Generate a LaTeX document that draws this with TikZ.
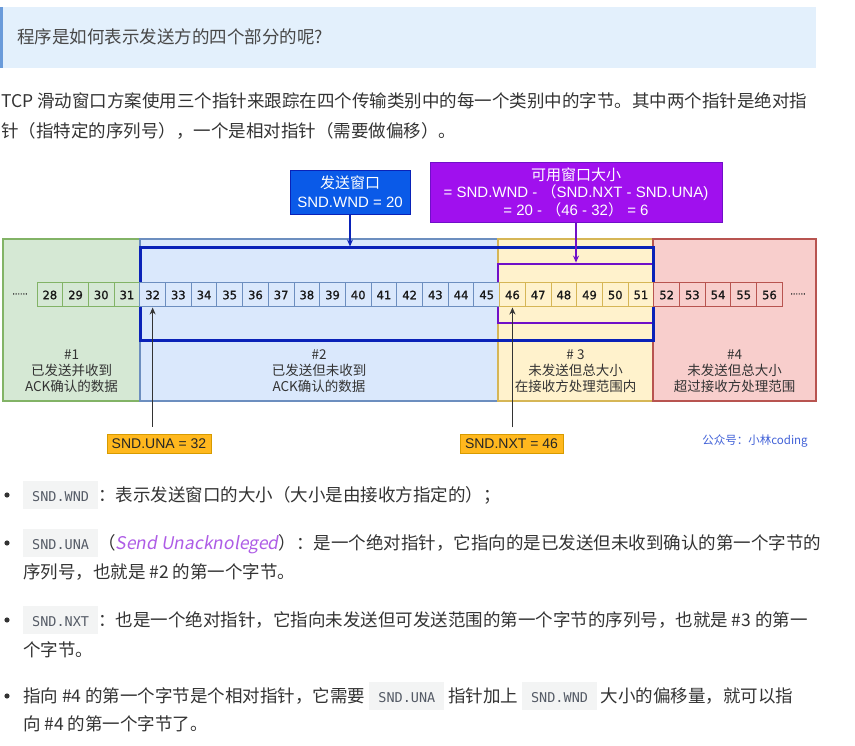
\documentclass[tikz,border=0pt]{standalone}
\usepackage{fontspec}
\setmainfont{Noto Sans CJK SC}
\newfontfamily\cjkf{Noto Sans CJK SC}
\newfontfamily\arialf{Liberation Sans}
\newfontfamily\cellf[FakeBold=1.2]{DejaVu Sans}
\newfontfamily\codef{DejaVu Sans Mono}
\newfontfamily\slantf[FakeSlant=0.18]{Noto Sans CJK SC}
\usepackage{xcolor}
\definecolor{ink}{HTML}{333333}
\definecolor{quotebg}{HTML}{E3F0FC}
\definecolor{quotebar}{HTML}{6A9BDA}
\definecolor{greenfill}{HTML}{D5E8D4}
\definecolor{greenline}{HTML}{82B366}
\definecolor{bluefill}{HTML}{DAE8FC}
\definecolor{blueline}{HTML}{6C8EBF}
\definecolor{yellowfill}{HTML}{FFF2CC}
\definecolor{yellowline}{HTML}{D6B656}
\definecolor{redfill}{HTML}{F8CECC}
\definecolor{redline}{HTML}{B85450}
\definecolor{winblue}{HTML}{0A22B8}
\definecolor{wndfill}{HTML}{0A5AE8}
\definecolor{violetfill}{HTML}{A010EE}
\definecolor{violetline}{HTML}{7010C8}
\definecolor{orangefill}{HTML}{FFB81E}
\definecolor{orangeline}{HTML}{D79B00}
\definecolor{markblue}{HTML}{4262D8}
\definecolor{codebg}{HTML}{F3F4F4}
\definecolor{codefg}{HTML}{555B66}
\definecolor{slantpurple}{HTML}{AE5CE6}
\usetikzlibrary{arrows.meta, positioning}

\newcommand\pagefont{\fontsize{17.5}{21}\selectfont}
\newcommand\codechip[1]{\begingroup\setlength{\fboxsep}{0pt}%
  \colorbox{codebg}{\hspace{9pt}\rule[-8pt]{0pt}{28pt}%
  {\codef\fontsize{13.5}{13.5}\selectfont\color{codefg}#1}\hspace{9pt}}\endgroup}

\begin{document}
\begin{tikzpicture}[x=1pt, y=-1pt,
  pagetext/.style={anchor=base west, inner sep=0, font=\pagefont, text=ink},
  zone/.style={rectangle, draw, line width=1.2pt, inner sep=0, minimum height=162},
  cell/.style={rectangle, draw, line width=1pt, inner sep=0, minimum width=25.7,
               minimum height=24, font=\cellf\fontsize{11.5}{12}\selectfont, text=black!90},
  zonelabel/.style={align=center, text=ink, font=\cjkf\fontsize{13.5}{16}\selectfont},
  wnd/.style={rectangle, draw=winblue, line width=3pt, inner sep=0,
              minimum width=513, minimum height=93},
  avail/.style={rectangle, draw=violetline, line width=2.8pt, inner sep=0,
                minimum width=155, minimum height=59},
  wndlabel/.style={rectangle, draw=winblue, fill=wndfill, text=white, align=center,
                   inner sep=0, minimum width=120, minimum height=44,
                   font=\arialf\fontsize{15}{19}\selectfont},
  avlabel/.style={rectangle, draw=violetline, fill=violetfill, text=white, align=center,
                  inner sep=0, minimum width=292, minimum height=60,
                  font=\arialf\fontsize{15}{17.5}\selectfont},
  ptrlabel/.style={rectangle, draw=orangeline, fill=orangefill, text=black!85,
                   inner sep=0, minimum width=104, minimum height=19,
                   font=\arialf\fontsize{14}{14}\selectfont},
  wndarrow/.style={-{Stealth[length=7pt, width=6pt]}, winblue, line width=1.3pt},
  avarrow/.style={-{Stealth[length=7pt, width=6pt]}, violetline, line width=1.3pt},
  ptr/.style={-{Stealth[length=7pt, width=6pt]}, ink, line width=1.3pt},
]
  \path[use as bounding box, fill=white] (0,0) rectangle (855,746);

  % Frage
  \node[rectangle, fill=quotebg, inner sep=0, minimum width=816, minimum height=61,
        anchor=north west] (qbox) at (0,7) {};
  \fill[quotebar] (qbox.north west) rectangle ([xshift=3pt]qbox.south west);
  \node[pagetext, text=ink!90] (qtext) at (17,44) {程序是如何表示发送方的四个部分的呢?};

  % Absatz
  \node[pagetext] (para1) at (1,108)
    {TCP 滑动窗口方案使用三个指针来跟踪在四个传输类别中的每一个类别中的字节。其中两个指针是绝对指};
  \node[pagetext] (para2) at (1,138) {针（指特定的序列号），一个是相对指针（需要做偏移）。};

  % Bereiche
  \node[zone, fill=greenfill, draw=greenline, minimum width=137] (z1) at (71.5,320) {};
  \node[zone, fill=bluefill, draw=blueline, minimum width=358] (z2) at (319,320) {};
  \node[zone, fill=yellowfill, draw=yellowline, minimum width=155] (z3) at (575.5,320) {};
  \node[zone, fill=redfill, draw=redline, minimum width=163] (z4) at (734.5,320) {};

  % Fenster
  \node[avail] (avl) at (575.5,293.5) {};
  \node[wnd] (win) at (396.5,294.5) {};

  % Bytes
  \foreach \n in {28,...,31}
    \node[cell, fill=greenfill, draw=greenline] (c\n) at ({37+(\n-28)*25.7+12.85},295) {\n};
  \foreach \n in {32,...,45}
    \node[cell, fill=bluefill, draw=blueline] (c\n) at ({37+(\n-28)*25.7+12.85},295) {\n};
  \foreach \n in {46,...,51}
    \node[cell, fill=yellowfill, draw=yellowline] (c\n) at ({37+(\n-28)*25.7+12.85},295) {\n};
  \foreach \n in {52,...,56}
    \node[cell, fill=redfill, draw=redline] (c\n) at ({37+(\n-28)*25.7+12.85},295) {\n};
  \node[font=\cellf\fontsize{8}{8}\selectfont, text=ink, inner sep=0] (dotsl) at (20,294) {......};
  \node[font=\cellf\fontsize{8}{8}\selectfont, text=ink, inner sep=0] (dotsr) at (798,294) {......};

  % Beschriftung der Bereiche
  \node[zonelabel] (l1) at (71.5,371) {\#1\\已发送并收到\\ACK确认的数据};
  \node[zonelabel] (l2) at (319,371) {\#2\\已发送但未收到\\ACK确认的数据};
  \node[zonelabel] (l3) at (575.5,371) {\# 3\\未发送但总大小\\在接收方处理范围内};
  \node[zonelabel] (l4) at (734.5,371) {\#4\\未发送但总大小\\超过接收方处理范围};

  % Kaesten oben
  \node[wndlabel] (wndlbl) at (350,192) {{\cjkf 发送窗口}\\SND.WND = 20};
  \node[avlabel] (avlbl) at (576,192)
    {{\cjkf 可用窗口大小}\\= SND.WND - {\cjkf （}SND.NXT - SND.UNA)\\= 20 - {\cjkf （}46 - 32{\cjkf ）} = 6};
  \draw[wndarrow] (wndlbl.south) -- (wndlbl.south |- win.north);
  \draw[avarrow] (avlbl.south) -- (avlbl.south |- avl.north);

  % Zeiger
  \node[ptrlabel] (una) at (159,443.5) {SND.UNA = 32};
  \node[ptrlabel, minimum width=103] (nxt) at (511.5,444) {SND.NXT = 46};
  \coordinate (unatail) at ([yshift=7pt]una.north);
  \coordinate (nxttail) at ([yshift=7pt]nxt.north);
  \draw[ptr] (unatail -| c32.south) -- (c32.south);
  \draw[ptr] (nxttail -| c46.south) -- (c46.south);
  \node[text=markblue, font=\cjkf\fontsize{11.5}{12}\selectfont, inner sep=0] (wm) at (755,441)
    {公众号：小林coding};

  % Liste
  \foreach \y in {495,543,620,696}
    \fill[ink] (7,\y) circle (2.6pt);
  \node[pagetext] (b1) at (23,501) {\codechip{SND.WND}：表示发送窗口的大小（大小是由接收方指定的）；};
  \node[pagetext] (b2a) at (23,549)
    {\codechip{SND.UNA}（{\slantf\color{slantpurple}Send Unacknoleged}）：是一个绝对指针，它指向的是已发送但未收到确认的第一个字节的};
  \node[pagetext] (b2b) at (23,578) {序列号，也就是 \#2 的第一个字节。};
  \node[pagetext] (b3a) at (23,626)
    {\codechip{SND.NXT}：也是一个绝对指针，它指向未发送但可发送范围的第一个字节的序列号，也就是 \#3 的第一};
  \node[pagetext] (b3b) at (23,656) {个字节。};
  \node[pagetext] (b4a) at (23,702)
    {指向 \#4 的第一个字节是个相对指针，它需要 \codechip{SND.UNA} 指针加上 \codechip{SND.WND} 大小的偏移量，就可以指};
  \node[pagetext] (b4b) at (23,730) {向 \#4 的第一个字节了。};
\end{tikzpicture}
\end{document}
